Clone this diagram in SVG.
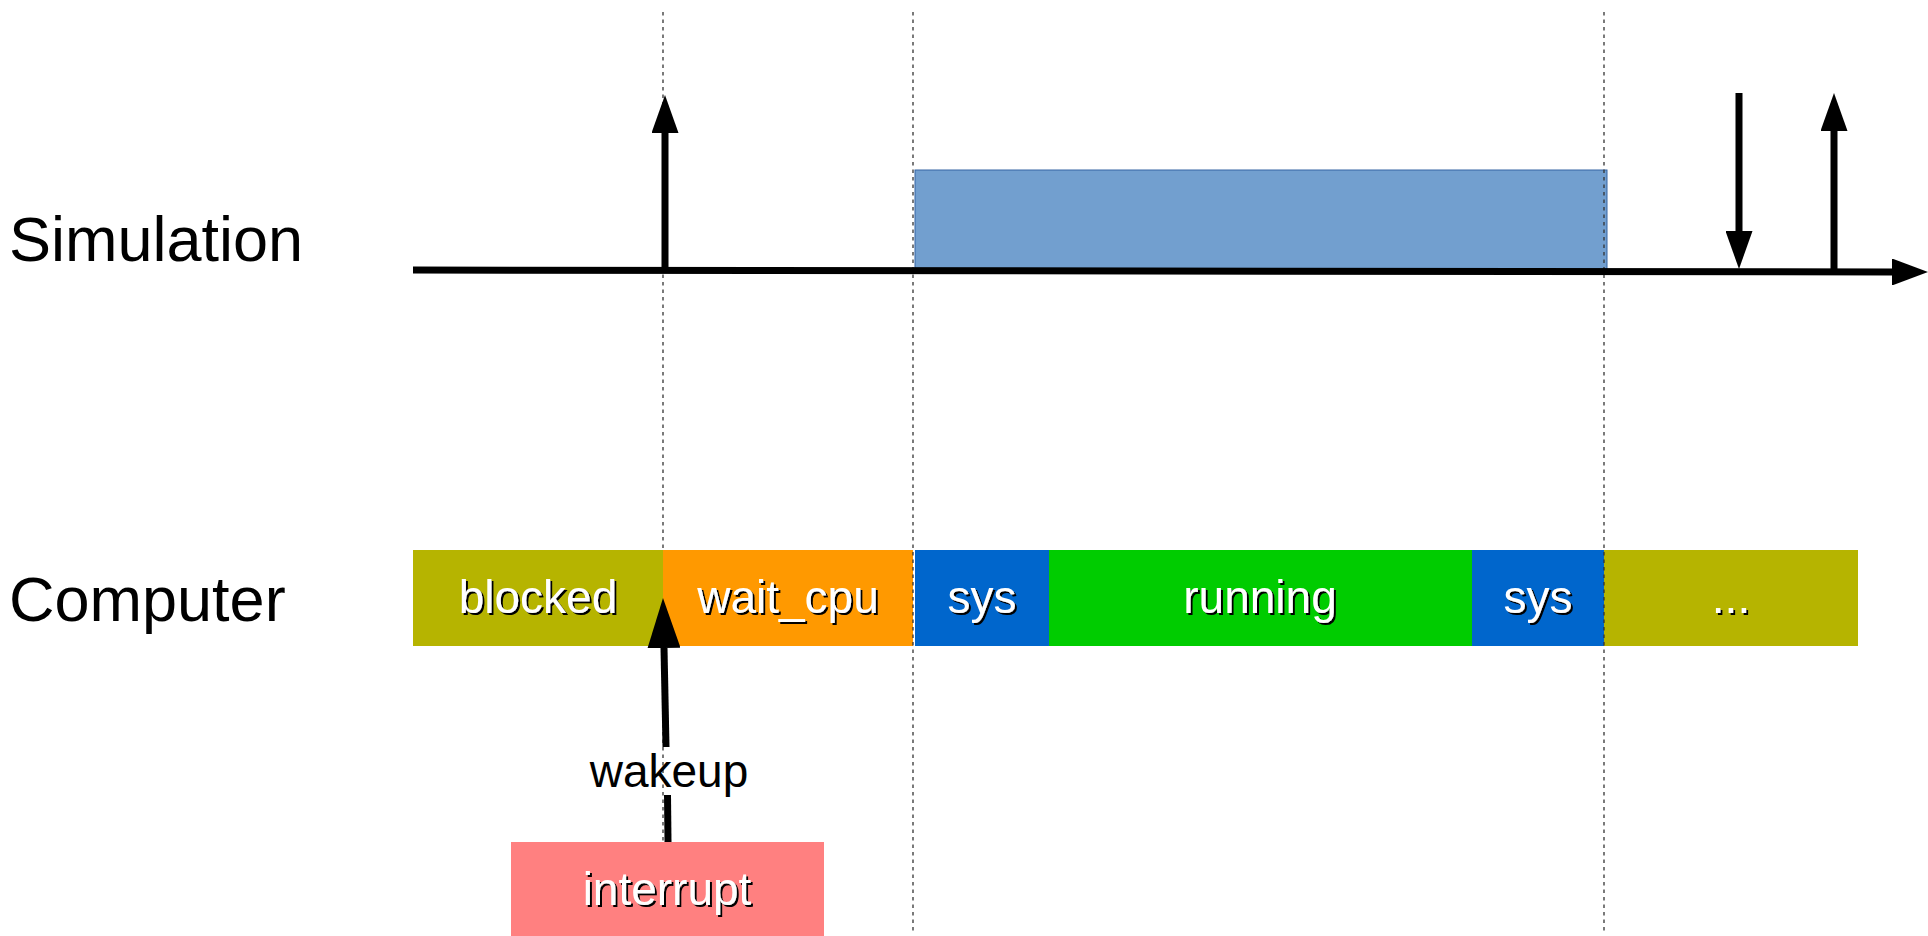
<svg xmlns="http://www.w3.org/2000/svg" width="1928" height="936" viewBox="0 0 1928 936">
<style>
  .lbl { font-family: "Liberation Sans", Arial, sans-serif; font-size: 63px; fill: #000; }
  .bar { font-family: "Liberation Sans", Arial, sans-serif; font-size: 46px; fill: #fff; text-anchor: middle; filter: url(#shadow); }
  .plain { font-family: "Liberation Sans", Arial, sans-serif; font-size: 46px; fill: #000; text-anchor: middle; }
  .guide { stroke: #333; stroke-width: 1.3; stroke-dasharray: 3.5 4; fill: none; }
  .arr { stroke: #000; stroke-width: 7; fill: none; }
</style>
<defs>
  <filter id="shadow" x="-10%" y="-20%" width="130%" height="150%">
    <feDropShadow dx="2" dy="2" stdDeviation="0" flood-color="#000" flood-opacity="1"/>
  </filter>
  <marker id="ahSmall" markerUnits="userSpaceOnUse" viewBox="0 0 38 27" markerWidth="38" markerHeight="27" refX="0" refY="13.5" orient="auto">
    <path d="M0,0 L38,13.5 L0,27 Z" fill="#000"/>
  </marker>
  <marker id="ahAxis" markerUnits="userSpaceOnUse" viewBox="0 0 36 27" markerWidth="36" markerHeight="27" refX="0" refY="13.5" orient="auto">
    <path d="M0,0 L36,13.5 L0,27 Z" fill="#000"/>
  </marker>
  <marker id="ahBig" markerUnits="userSpaceOnUse" viewBox="0 0 50 33" markerWidth="50" markerHeight="33" refX="0" refY="16.5" orient="auto">
    <path d="M0,0 L50,16.5 L0,33 Z" fill="#000"/>
  </marker>
</defs>

<rect width="1928" height="936" fill="#fff"/>

<text class="lbl" x="9" y="261">Simulation</text>
<text class="lbl" x="9" y="621">Computer</text>

<g id="guide-a"><line class="guide" x1="663" y1="12" x2="663" y2="933"/></g>

<g id="sim-busy"><rect x="915" y="170" width="692" height="99" fill="#729fcf" stroke="#3465a4" stroke-width="1"/></g>

<g id="blocked"><rect x="413" y="550" width="250" height="96" fill="#b6b400"/><text class="bar" x="538" y="613">blocked</text></g>
<g id="wait_cpu"><rect x="663" y="550" width="250" height="96" fill="#ff9900"/><text class="bar" x="788" y="613">wait_cpu</text></g>
<g id="sys1"><rect x="915" y="550" width="134" height="96" fill="#0066cc"/><text class="bar" x="982" y="613">sys</text></g>
<g id="running"><rect x="1049" y="550" width="423" height="96" fill="#00cc00"/><text class="bar" x="1260" y="613">running</text></g>
<g id="sys2"><rect x="1472" y="550" width="132" height="96" fill="#0066cc"/><text class="bar" x="1538" y="613">sys</text></g>
<g id="more"><rect x="1604" y="550" width="254" height="96" fill="#b6b400"/><text class="bar" x="1731" y="613">...</text></g>

<g id="guide-b"><line class="guide" x1="913" y1="12" x2="913" y2="933"/></g>
<g id="guide-c"><line class="guide" x1="1604" y1="12" x2="1604" y2="933"/></g>

<g id="interrupt"><rect x="511" y="842" width="313" height="94" fill="#ff8080"/><text class="bar" x="667" y="905">interrupt</text></g>

<g id="connectors">
  <line class="arr" x1="413" y1="270" x2="1892" y2="272" marker-end="url(#ahAxis)"/>
  <line class="arr" x1="665" y1="270" x2="665" y2="133" marker-end="url(#ahSmall)"/>
  <line class="arr" x1="1739" y1="93" x2="1739" y2="231" marker-end="url(#ahSmall)"/>
  <line class="arr" x1="1834" y1="271" x2="1834" y2="131" marker-end="url(#ahSmall)"/>
  <line class="arr" x1="668" y1="842" x2="667.5" y2="795"/>
  <line class="arr" x1="666" y1="747" x2="664" y2="648" marker-end="url(#ahBig)"/>
  <text class="plain" x="669" y="787">wakeup</text>
</g>
</svg>
